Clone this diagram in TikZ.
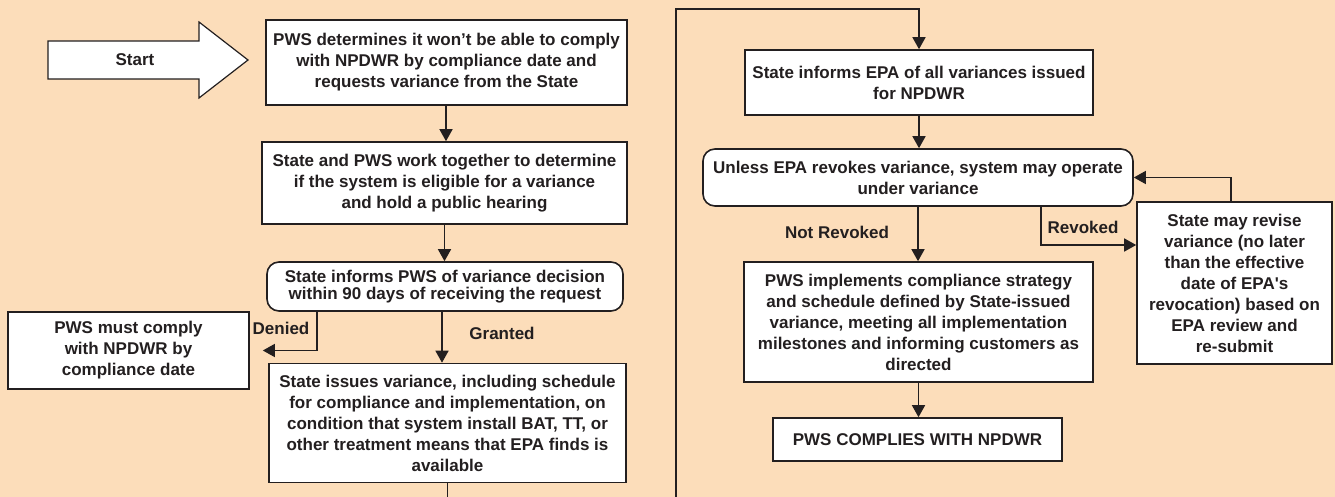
\documentclass[tikz,border=0pt]{standalone}
\usepackage{fontspec}
\setmainfont{Liberation Sans}
\usetikzlibrary{arrows.meta}
\definecolor{bg}{RGB}{252,221,186}
\definecolor{ink}{RGB}{35,31,32}
\begin{document}
\begin{tikzpicture}[x=1pt,y=-1pt,
  txt/.style={font=\fontsize{17}{21}\selectfont\bfseries,text=ink},
  box/.style={txt,draw=ink,fill=white,line width=1.6pt,align=center,inner sep=0pt},
  rbox/.style={box,rounded corners=12pt},
  lbl/.style={txt,inner sep=0pt},
  conn/.style={draw=ink,line width=1.5pt},
  arr/.style={conn,-{Triangle[length=12pt,width=13pt]}}]
\useasboundingbox (0,0) rectangle (1335,497);
\fill[bg] (0,0) rectangle (1335,497);

% Start arrow
\draw[draw=ink,fill=white,line width=1.2pt,line join=miter]
  (48,41) -- (199,41) -- (199,22) -- (248,60) -- (199,98) -- (199,79) -- (48,79) -- cycle;
\node[lbl] (start) at (135,60) {Start};

% left column
\node[box,minimum width=361pt,minimum height=85pt] (b1) at (446.5,62.5)
  {PWS determines it won’t be able to comply\\with NPDWR by compliance date and\\requests variance from the State};
\node[box,minimum width=365pt,minimum height=82pt] (b2) at (444.5,183)
  {State and PWS work together to determine\\if the system is eligible for a variance\\and hold a public hearing};
\node[rbox,minimum width=356pt,minimum height=49pt,font=\fontsize{17}{17.5}\selectfont\bfseries] (b3) at (445,286.5)
  {State informs PWS of variance decision\\within 90 days of receiving the request};
\node[box,minimum width=357pt,minimum height=119pt] (b4) at (447.5,423)
  {State issues variance, including schedule\\for compliance and implementation, on\\condition that system install BAT, TT, or\\other treatment means that EPA finds is\\available};
\node[box,minimum width=241pt,minimum height=77pt] (deny) at (128.5,350.5)
  {PWS must comply\\with NPDWR by\\compliance date};

% right column
\node[box,minimum width=348pt,minimum height=65pt] (b5) at (919,82.5)
  {State informs EPA of all variances issued\\for NPDWR};
\node[rbox,minimum width=430pt,minimum height=57pt] (b6) at (918,177.5)
  {Unless EPA revokes variance, system may operate\\under variance};
\node[box,minimum width=195pt,minimum height=162pt] (b7) at (1234.5,283)
  {State may revise\\variance (no later\\than the effective\\date of EPA\textquotesingle s\\revocation) based on\\EPA review and\\re-submit};
\node[box,minimum width=349pt,minimum height=120pt] (b8) at (918.5,322)
  {PWS implements compliance strategy\\and schedule defined by State-issued\\variance, meeting all implementation\\milestones and informing customers as\\directed};
\node[box,minimum width=289pt,minimum height=43pt] (b9) at (917.5,439.5)
  {PWS COMPLIES WITH NPDWR};

% labels
\node[lbl] (denied) at (281,328) {Denied};
\node[lbl] (granted) at (502,333) {Granted};
\node[lbl] (notrev) at (837,232) {Not Revoked};
\node[lbl] (revoked) at (1083,227) {Revoked};

% connectors
\draw[arr] ([xshift=-0.5pt]b1.south) -- ([xshift=-0.5pt]b1.south |- b2.north);
\draw[arr] (b2.south) -- (b2.south |- b3.north);
\draw[arr] ([xshift=-3pt]b3.south) -- ([xshift=-3pt]b3.south |- b4.north);
\draw[arr,shorten >=13pt,line join=miter] ([xshift=-128pt]b3.south) |- (deny.east);
\coordinate (exitL) at (447,497);
\draw[conn] (b4.south) -- (b4.south |- exitL);

\coordinate (exitR) at (676,497);
\coordinate (topL) at (676,9);
\draw[arr,line join=miter] (exitR) -- (topL) -| (b5.north);
\draw[arr] (b5.south) -- (b5.south |- b6.north);
\draw[arr] (b6.south) -- (b6.south |- b8.north);
\draw[arr,line join=miter] ([xshift=123pt]b6.south) |- ([yshift=38pt]b7.west);
\draw[arr,line join=miter] ([xshift=-3.5pt]b7.north) |- (b6.east);
\draw[arr] (b8.south) -- (b8.south |- b9.north);
\end{tikzpicture}
\end{document}
